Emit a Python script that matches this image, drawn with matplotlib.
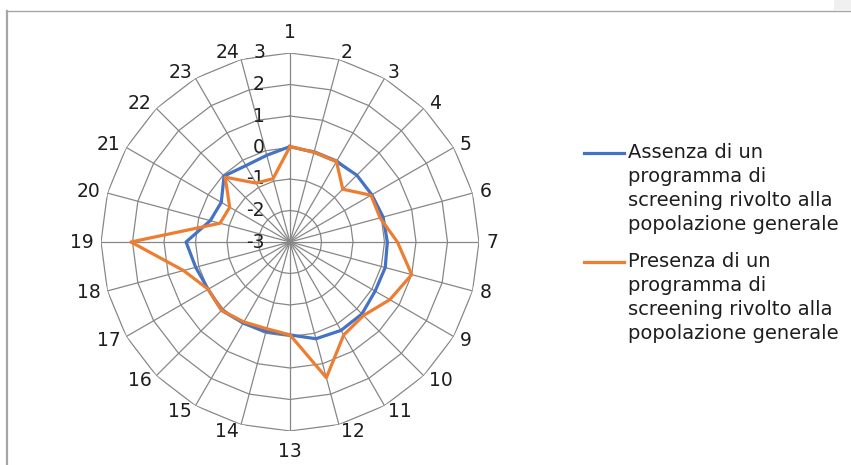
import numpy as np
import matplotlib
matplotlib.use('Agg')
import matplotlib.pyplot as plt
from matplotlib.lines import Line2D
from matplotlib.patches import Rectangle

# ---- data -------------------------------------------------------------
categories = [str(i) for i in range(1, 25)]
assenza = [0.03, -0.05, -0.05, 0.0, 0.0, 0.06, 0.09, 0.13, 0.12, 0.23, 0.24, 0.18,
           -0.05, -0.06, -0.03, 0.07, 0.0, 0.1, 0.3, -0.38, -0.48, -0.04, -0.2, -0.15]
presenza = [0.03, -0.05, -0.05, -0.63, -0.03, -0.04, 0.41, 1.0, 0.66, 0.3, 0.41, 1.46,
            -0.05, -0.15, -0.07, 0.07, 0.0, 0.5, 2.05, -0.7, -0.79, -0.09, -0.84, -0.92]
r_ticks = [-3, -2, -1, 0, 1, 2, 3]
series_names = ['Assenza di un\nprogramma di\nscreening rivolto alla\npopolazione generale',
                'Presenza di un\nprogramma di\nscreening rivolto alla\npopolazione generale']

BLUE = '#4472C4'
ORANGE = '#ED7D31'
GRID = '#878787'
INK = '#1E1E1E'
FS = 13.5

W, H = 851, 465
fig = plt.figure(figsize=(W / 100, H / 100), dpi=100)

# polar axes: centre (290, 242) px, radius 189 px
cx, cy, R = 290, 242, 189
ax = fig.add_axes([(cx - R) / W, (H - cy - R) / H, 2 * R / W, 2 * R / H],
                  projection='polar')
ax.set_theta_zero_location('N')
ax.set_theta_direction(-1)
ax.set_ylim(r_ticks[0], r_ticks[-1])
ax.grid(False)
ax.spines['polar'].set_visible(False)
ax.set_xticks([])
ax.set_yticks([])
ax.patch.set_alpha(0)

n = len(categories)
theta = np.arange(n) * 2 * np.pi / n
theta_c = np.append(theta, theta[0])

# polygon rings and spokes (Excel-style radar grid)
for rv in r_ticks[1:]:
    ax.plot(theta_c, np.full(n + 1, rv), color=GRID, lw=0.9, zorder=1)
for t in theta:
    ax.plot([t, t], [r_ticks[0], r_ticks[-1]], color=GRID, lw=0.9, zorder=1)

# series
ax.plot(theta_c, assenza + assenza[:1], color=BLUE, lw=2.3, zorder=3)
ax.plot(theta_c, presenza + presenza[:1], color=ORANGE, lw=2.3, zorder=4)

# category labels just outside the outer ring vertices
for t, lab in zip(theta, categories):
    s, c = np.sin(t), np.cos(t)
    if abs(s) < 1e-6:
        off, ha = (0, 20 * np.sign(c)), 'center'
    else:
        off, ha = (7 * s, 7 * c), ('left' if s > 0 else 'right')
    ax.annotate(lab, (t, r_ticks[-1]), xytext=off, textcoords='offset pixels',
                ha=ha, va='center', fontsize=FS, color=INK, annotation_clip=False)

# radial value labels along the top spoke
for rv in r_ticks:
    ax.annotate(str(rv), (0, rv), xytext=(-25, 0), textcoords='offset pixels',
                ha='right', va='center', fontsize=FS, color=INK)

# legend drawn by hand so the handle sits on the first text line
leg_y = [153, 262]
for y, col, name in zip(leg_y, [BLUE, ORANGE], series_names):
    fig.add_artist(Line2D([584 / W, 624 / W], [1 - y / H, 1 - y / H],
                          color=col, lw=2.3, transform=fig.transFigure))
    fig.text(628 / W, 1 - (y - 10) / H, name, ha='left', va='top', fontsize=14,
             color=INK, linespacing=1.33)

# frame remnants of the screenshot
fig.add_artist(Rectangle((834 / W, 1 - 10 / H), 17 / W, 10 / H, color='#F0F0F0',
                         transform=fig.transFigure, lw=0))
fig.add_artist(Line2D([6.5 / W, 1], [1 - 11 / H, 1 - 11 / H], color='#A6A6A6',
                      lw=1.0, transform=fig.transFigure))
fig.add_artist(Line2D([6.5 / W, 6.5 / W], [0, 1 - 11 / H], color='#A6A6A6',
                      lw=1.6, transform=fig.transFigure))

fig.savefig('out.png', dpi=100)
